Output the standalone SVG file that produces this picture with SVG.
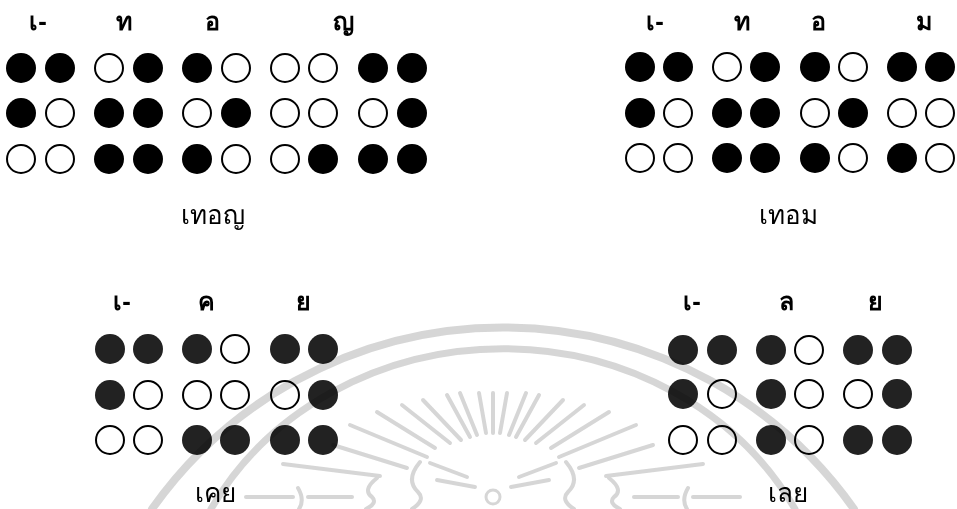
<svg xmlns="http://www.w3.org/2000/svg" width="957" height="509" viewBox="0 0 957 509">
<style>
.f{fill:#000}
.d{fill:#222}
.o{fill:none;stroke:#000;stroke-width:2}
.lbl{font-family:"Noto Sans","DejaVu Sans",sans-serif;font-size:25px;font-weight:bold;text-anchor:middle;fill:#000}
.word{font-family:"Noto Sans","DejaVu Sans",sans-serif;font-size:26px;text-anchor:middle;fill:#000}
.wm{fill:none;stroke:#d2d2d2;stroke-linecap:round}
</style>
<rect width="957" height="509" fill="#fff"/>
<g id="word1">
<text class="lbl" x="38" y="30">เ-</text>
<text class="lbl" x="124" y="30">ท</text>
<text class="lbl" x="212" y="30">อ</text>
<text class="lbl" x="343" y="30">ญ</text>
<circle class="f" cx="21" cy="68" r="15"/><circle class="f" cx="60" cy="68" r="15"/>
<circle class="f" cx="21" cy="113" r="15"/><circle class="o" cx="60" cy="113" r="14"/>
<circle class="o" cx="21" cy="159" r="14"/><circle class="o" cx="60" cy="159" r="14"/>
<circle class="o" cx="109" cy="68" r="14"/><circle class="f" cx="148" cy="68" r="15"/>
<circle class="f" cx="109" cy="113" r="15"/><circle class="f" cx="148" cy="113" r="15"/>
<circle class="f" cx="109" cy="159" r="15"/><circle class="f" cx="148" cy="159" r="15"/>
<circle class="f" cx="197" cy="68" r="15"/><circle class="o" cx="236" cy="68" r="14"/>
<circle class="o" cx="197" cy="113" r="14"/><circle class="f" cx="236" cy="113" r="15"/>
<circle class="f" cx="197" cy="159" r="15"/><circle class="o" cx="236" cy="159" r="14"/>
<circle class="o" cx="285" cy="68" r="14"/><circle class="o" cx="323" cy="68" r="14"/>
<circle class="o" cx="285" cy="113" r="14"/><circle class="o" cx="323" cy="113" r="14"/>
<circle class="o" cx="285" cy="159" r="14"/><circle class="f" cx="323" cy="159" r="15"/>
<circle class="f" cx="373" cy="68" r="15"/><circle class="f" cx="412" cy="68" r="15"/>
<circle class="o" cx="373" cy="113" r="14"/><circle class="f" cx="412" cy="113" r="15"/>
<circle class="f" cx="373" cy="159" r="15"/><circle class="f" cx="412" cy="159" r="15"/>
<text class="word" x="213" y="224">เทอญ</text>
</g>
<g id="word2">
<text class="lbl" x="655" y="30">เ-</text>
<text class="lbl" x="742" y="30">ท</text>
<text class="lbl" x="818" y="30">อ</text>
<text class="lbl" x="924" y="30">ม</text>
<circle class="f" cx="640" cy="67" r="15"/><circle class="f" cx="678" cy="67" r="15"/>
<circle class="f" cx="640" cy="113" r="15"/><circle class="o" cx="678" cy="113" r="14"/>
<circle class="o" cx="640" cy="158" r="14"/><circle class="o" cx="678" cy="158" r="14"/>
<circle class="o" cx="727" cy="67" r="14"/><circle class="f" cx="765" cy="67" r="15"/>
<circle class="f" cx="727" cy="113" r="15"/><circle class="f" cx="765" cy="113" r="15"/>
<circle class="f" cx="727" cy="158" r="15"/><circle class="f" cx="765" cy="158" r="15"/>
<circle class="f" cx="815" cy="67" r="15"/><circle class="o" cx="853" cy="67" r="14"/>
<circle class="o" cx="815" cy="113" r="14"/><circle class="f" cx="853" cy="113" r="15"/>
<circle class="f" cx="815" cy="158" r="15"/><circle class="o" cx="853" cy="158" r="14"/>
<circle class="f" cx="902" cy="67" r="15"/><circle class="f" cx="940" cy="67" r="15"/>
<circle class="o" cx="902" cy="113" r="14"/><circle class="o" cx="940" cy="113" r="14"/>
<circle class="f" cx="902" cy="158" r="15"/><circle class="o" cx="940" cy="158" r="14"/>
<text class="word" x="788" y="224">เทอม</text>
</g>
<g id="word3">
<text class="lbl" x="122" y="310">เ-</text>
<text class="lbl" x="206" y="310">ค</text>
<text class="lbl" x="303" y="310">ย</text>
<circle class="d" cx="110" cy="349" r="15"/><circle class="d" cx="148" cy="349" r="15"/>
<circle class="d" cx="110" cy="395" r="15"/><circle class="o" cx="148" cy="395" r="14"/>
<circle class="o" cx="110" cy="440" r="14"/><circle class="o" cx="148" cy="440" r="14"/>
<circle class="d" cx="197" cy="349" r="15"/><circle class="o" cx="235" cy="349" r="14"/>
<circle class="o" cx="197" cy="395" r="14"/><circle class="o" cx="235" cy="395" r="14"/>
<circle class="d" cx="197" cy="440" r="15"/><circle class="d" cx="235" cy="440" r="15"/>
<circle class="d" cx="285" cy="349" r="15"/><circle class="d" cx="323" cy="349" r="15"/>
<circle class="o" cx="285" cy="395" r="14"/><circle class="d" cx="323" cy="395" r="15"/>
<circle class="d" cx="285" cy="440" r="15"/><circle class="d" cx="323" cy="440" r="15"/>
<text class="word" x="215" y="502">เคย</text>
</g>
<g id="word4">
<text class="lbl" x="692" y="310">เ-</text>
<text class="lbl" x="786" y="310">ล</text>
<text class="lbl" x="875" y="310">ย</text>
<circle class="d" cx="683" cy="350" r="15"/><circle class="d" cx="722" cy="350" r="15"/>
<circle class="d" cx="683" cy="394" r="15"/><circle class="o" cx="722" cy="394" r="14"/>
<circle class="o" cx="683" cy="440" r="14"/><circle class="o" cx="722" cy="440" r="14"/>
<circle class="d" cx="771" cy="350" r="15"/><circle class="o" cx="809" cy="350" r="14"/>
<circle class="d" cx="771" cy="394" r="15"/><circle class="o" cx="809" cy="394" r="14"/>
<circle class="d" cx="771" cy="440" r="15"/><circle class="o" cx="809" cy="440" r="14"/>
<circle class="d" cx="858" cy="350" r="15"/><circle class="d" cx="897" cy="350" r="15"/>
<circle class="o" cx="858" cy="394" r="14"/><circle class="d" cx="897" cy="394" r="15"/>
<circle class="d" cx="858" cy="440" r="15"/><circle class="d" cx="897" cy="440" r="15"/>
<text class="word" x="788" y="502">เลย</text>
</g>
<g id="watermark" style="mix-blend-mode:multiply" opacity="0.9">
<path class="wm" stroke-width="8" d="M152,509 A430,430 0 0 1 854,509"/>
<path class="wm" stroke-width="7" d="M211,509 A330,300 0 0 1 795,509"/>
<g class="wm" stroke-width="4">
<line x1="333" y1="445" x2="407" y2="468"/>
<line x1="350" y1="425" x2="427" y2="457"/>
<line x1="377" y1="412" x2="435" y2="448"/>
<line x1="402" y1="405" x2="450" y2="443"/>
<line x1="423" y1="400" x2="461" y2="440"/>
<line x1="447" y1="395" x2="470" y2="437"/>
<line x1="460" y1="393" x2="477" y2="435"/>
<line x1="479" y1="393" x2="486" y2="433"/>
<line x1="493" y1="393" x2="493" y2="433"/>
<line x1="507" y1="393" x2="500" y2="433"/>
<line x1="526" y1="393" x2="509" y2="435"/>
<line x1="539" y1="395" x2="516" y2="437"/>
<line x1="563" y1="400" x2="525" y2="440"/>
<line x1="584" y1="405" x2="536" y2="443"/>
<line x1="609" y1="412" x2="551" y2="448"/>
<line x1="636" y1="425" x2="559" y2="457"/>
<line x1="653" y1="445" x2="579" y2="468"/>
<line x1="430" y1="463" x2="467" y2="477"/>
<line x1="437" y1="480" x2="475" y2="487"/>
<line x1="556" y1="463" x2="519" y2="477"/>
<line x1="549" y1="480" x2="511" y2="487"/>
<line x1="283" y1="464" x2="380" y2="476"/>
<line x1="703" y1="464" x2="606" y2="476"/>
<line x1="246" y1="497" x2="293" y2="497"/>
<line x1="308" y1="497" x2="352" y2="497"/>
<line x1="634" y1="497" x2="678" y2="497"/>
<line x1="693" y1="497" x2="740" y2="497"/>
<path d="M298,488 Q305,500 299,509"/>
<path d="M688,488 Q681,500 687,509"/>
<path d="M377,478 Q362,490 372,497 Q378,503 366,509"/>
<path d="M609,478 Q624,490 614,497 Q608,503 620,509"/>
<path d="M420,462 Q405,480 418,492 Q426,500 412,509"/>
<path d="M566,462 Q581,480 568,492 Q560,500 574,509"/>
</g>
<circle cx="493" cy="497" r="7" fill="none" stroke="#d2d2d2" stroke-width="3"/>
</g>
</svg>
